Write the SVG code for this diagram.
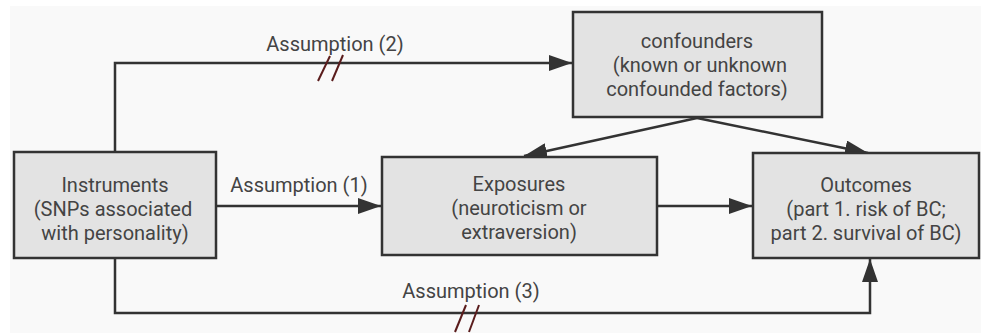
<svg xmlns="http://www.w3.org/2000/svg" width="981" height="333" viewBox="0 0 981 333">
<style>
.box{fill:#e3e3e3;stroke:#333;stroke-width:2.5}
.t{font-family:Roboto,"Liberation Sans",sans-serif;font-size:20px;fill:#444;text-anchor:middle}
.c{fill:none;stroke:#333;stroke-width:2.5}
.s{stroke:#5a1c1c;stroke-width:2}
</style>
<defs>
<marker id="ah" markerWidth="23" markerHeight="16" refX="23" refY="8" orient="auto" markerUnits="userSpaceOnUse">
<path d="M0,0 L23,8 L0,16 Z" fill="#333"/>
</marker>
</defs>
<rect x="10" y="6" width="971" height="327" fill="#f9f9f9"/>
<g id="connectors">
<path class="c" d="M115,152 V63 H572" marker-end="url(#ah)"/>
<path class="c" d="M217,206 H381" marker-end="url(#ah)"/>
<path class="c" d="M657,206 H752" marker-end="url(#ah)"/>
<path class="c" d="M115,258 V313 H870 V259" marker-end="url(#ah)"/>
<path class="c" d="M697,118 L524,156" marker-end="url(#ah)"/>
<path class="c" d="M697,118 L868,153" marker-end="url(#ah)"/>
<line class="s" x1="318" y1="81" x2="330" y2="56"/>
<line class="s" x1="332" y1="81" x2="343" y2="55"/>
<line class="s" x1="455" y1="332" x2="466" y2="305"/>
<line class="s" x1="469" y1="332" x2="479" y2="305"/>
<text class="t" x="335" y="51">Assumption (2)</text>
<text class="t" x="299" y="192">Assumption (1)</text>
<text class="t" x="471" y="298">Assumption (3)</text>
</g>
<g id="instruments">
<rect class="box" x="14" y="152" width="202" height="106"/>
<text class="t" x="115" y="192">Instruments</text>
<text class="t" x="113" y="216">(SNPs associated</text>
<text class="t" x="115" y="240">with personality)</text>
</g>
<g id="confounders">
<rect class="box" x="573" y="12" width="249" height="105"/>
<text class="t" x="697" y="48">confounders</text>
<text class="t" x="700" y="72">(known or unknown</text>
<text class="t" x="697" y="96">confounded factors)</text>
</g>
<g id="exposures">
<rect class="box" x="382" y="157" width="275" height="98"/>
<text class="t" x="519" y="191">Exposures</text>
<text class="t" x="519" y="215">(neuroticism or</text>
<text class="t" x="519" y="239">extraversion)</text>
</g>
<g id="outcomes">
<rect class="box" x="753" y="153" width="226" height="105"/>
<text class="t" x="866" y="192">Outcomes</text>
<text class="t" x="866" y="216">(part 1. risk of BC;</text>
<text class="t" x="866" y="240">part 2. survival of BC)</text>
</g>
</svg>
